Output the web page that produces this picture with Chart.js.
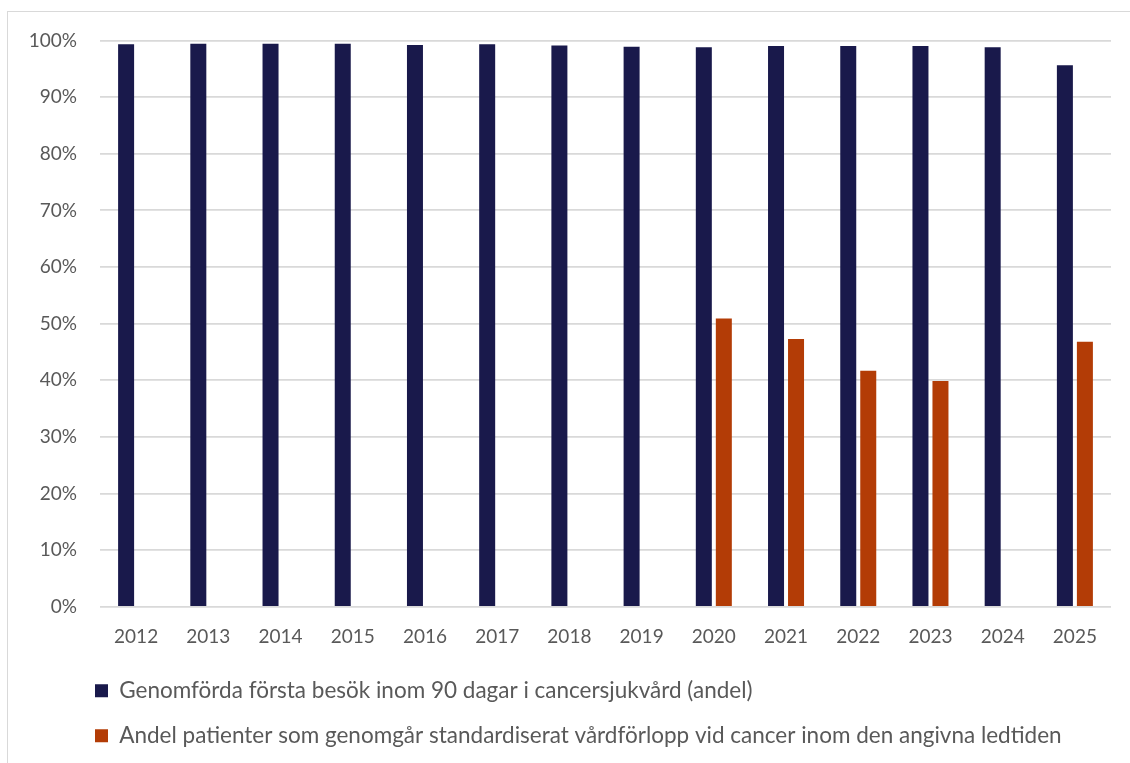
<!DOCTYPE html>
<html>
<head>
<meta charset="utf-8">
<script src="https://cdn.jsdelivr.net/npm/chart.js@4/dist/chart.umd.min.js"></script>
<style>
    body { margin: 0; background: #fff; overflow: hidden; }
    #box {
        position: absolute; left: 7px; top: 11px;
        width: 1140px; height: 770px;
        border: 1px solid #d9d9d9; background: #fff;
    }
    #wrap { position: absolute; left: 0; top: -6px; width: 1122px; height: 751px; }
</style>
</head>
<body>
<div id="box"><div id="wrap"><canvas id="chart"></canvas></div></div>
<script>
const years = ['2012', '2013', '2014', '2015', '2016', '2017', '2018',
    '2019', '2020', '2021', '2022', '2023', '2024', '2025']

// share in percent
const firstVisit = [99.3, 99.4, 99.4, 99.4, 99.2, 99.3, 99.1,
    98.9, 98.8, 99.0, 99.0, 99.0, 98.8, 95.6]
const standardPath = [null, null, null, null, null, null, null,
    null, 50.9, 47.3, 41.7, 39.9, null, 46.8]

const labelFirst = 'Genomförda första besök inom 90 dagar i cancersjukvård (andel)'
const labelPath = 'Andel patienter som genomgår standardiserat vårdförlopp vid cancer inom den angivna ledtiden'

const navy = '#19194b'
const rust = '#b33c06'
const textGrey = '#595959'
const fontFam = 'Lato, Carlito, Calibri, sans-serif'

Chart.defaults.font.family = fontFam
Chart.defaults.font.size = 19
Chart.defaults.color = textGrey

// legend should start under the plot, not at the canvas edge
const legendShift = {
    id: 'legendShift',
    afterLayout(chart) {
        chart.legend.left = 87 - 22.5
    }
}

var ctx = document.getElementById('chart').getContext('2d')
window.mainChart = new Chart(ctx, {
    type: 'bar',
    data: {
        labels: years,
        datasets: [
            {
                label: labelFirst,
                data: firstVisit,
                backgroundColor: navy,
                borderWidth: 0,
                categoryPercentage: 0.554,
                barPercentage: 0.8,
            },
            {
                label: labelPath,
                data: standardPath,
                backgroundColor: rust,
                borderWidth: 0,
                categoryPercentage: 0.554,
                barPercentage: 0.8,
            }
        ]
    },
    options: {
        responsive: true,
        maintainAspectRatio: false,
        animation: false,
        layout: {
            padding: { left: 0, right: 19, top: 15, bottom: 0 }
        },
        scales: {
            x: {
                grid: { display: false, drawTicks: false },
                border: { display: false },
                ticks: { padding: 18, color: textGrey },
                afterFit: function(scale) { scale.height = 50 }
            },
            y: {
                min: 0,
                max: 100,
                grid: { color: '#d9d9d9', lineWidth: 1.8, drawTicks: false },
                border: { display: false },
                ticks: {
                    stepSize: 10,
                    padding: 23,
                    color: textGrey,
                    callback: (v) => v + '%'
                },
                afterFit: function(scale) { scale.width = 92 }
            }
        },
        plugins: {
            tooltip: { enabled: false },
            legend: {
                position: 'bottom',
                align: 'start',
                labels: {
                    boxWidth: 13,
                    boxHeight: 13,
                    padding: 22.5,
                    color: textGrey,
                    font: { size: 22.5 }
                }
            }
        }
    },
    plugins: [legendShift]
})
</script>
</body>
</html>
